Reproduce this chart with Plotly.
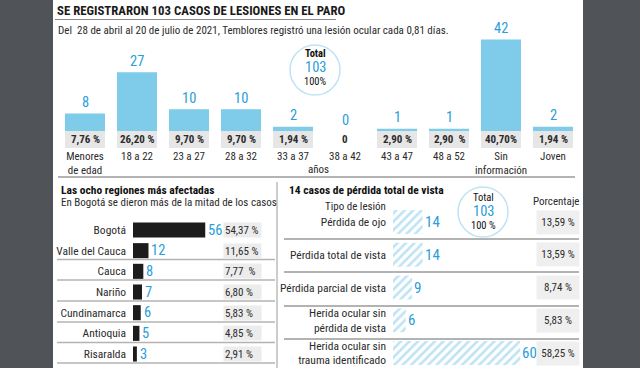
import plotly.graph_objects as go

# ---------------- data ----------------
age_groups = ["Menores de edad", "18 a 22", "23 a 27", "28 a 32", "33 a 37",
              "38 a 42", "43 a 47", "48 a 52", "Sin información", "Joven"]
age_tick_labels = ["Menores<br>de edad", "18 a 22", "23 a 27", "28 a 32", "33 a 37",
                   "38 a 42", "43 a 47", "48 a 52", "Sin<br>información", "Joven"]
age_cases = [8, 27, 10, 10, 2, 0, 1, 1, 42, 2]
age_pct = ["7,76 %", "26,20 %", "9,70 %", "9,70 %", "1,94 %", "0",
           "2,90 %", "2,90  %", "40,70%", "1,94 %"]

regions = ["Bogotá", "Valle del Cauca", "Cauca", "Nariño", "Cundinamarca",
           "Antioquia", "Risaralda"]
region_cases = [56, 12, 8, 7, 6, 5, 3]
region_pct = ["54,37 %", "11,65 %", "7,77  %", "6,80 %", "5,83 %", "4,85 %", "2,91 %"]

injury_types = ["Pérdida de ojo", "Pérdida total de vista", "Pérdida parcial de vista",
                "Herida ocular sin pérdida de vista", "Herida ocular sin trauma identificado"]
injury_tick_labels = ["Pérdida de ojo", "Pérdida total de vista", "Pérdida parcial de vista",
                      "Herida ocular sin<br>pérdida de vista",
                      "Herida ocular sin<br>trauma identificado"]
injury_cases = [14, 14, 9, 6, 60]
injury_pct = ["13,59 %", "13,59 %", "8,74 %", "5,83 %", "58,25 %"]

total_cases = 103

# ---------------- style ----------------
W, H = 640, 368
DARK = "#505458"
TOP_BLUE = "#7ecbea"
NUM_BLUE = "#2a9ed8"
BOX_GRAY = "#e6e6e6"
LINE_GRAY = "#b3b3b3"
TXT = "#2b2b2b"
NARROW = "Roboto Condensed, Liberation Sans Narrow, Roboto, sans-serif"
BODY = "Roboto Condensed, Roboto, sans-serif"


def px(x):
    return x / W


def py(y):
    return 1 - y / H


PX_PER_CASE = 2.18
BOX_H = 17 / PX_PER_CASE

fig = go.Figure()

fig.add_trace(go.Bar(x=age_groups, y=age_cases, width=0.77, xaxis="x", yaxis="y",
                     marker=dict(color=TOP_BLUE, line_width=0), hoverinfo="skip"))
fig.add_trace(go.Bar(x=age_groups, y=[BOX_H] * len(age_groups),
                     base=[-BOX_H] * len(age_groups), width=0.77, xaxis="x", yaxis="y",
                     marker=dict(color=[BOX_GRAY if c > 0 else "rgba(0,0,0,0)" for c in age_cases],
                                 line_width=0), hoverinfo="skip"))
fig.add_trace(go.Bar(x=region_cases, y=regions, orientation="h", width=0.73,
                     xaxis="x2", yaxis="y2", marker=dict(color="#1c1c1c", line_width=0),
                     hoverinfo="skip"))
fig.add_trace(go.Bar(x=injury_cases, y=injury_types, orientation="h", width=0.73,
                     xaxis="x3", yaxis="y3",
                     marker=dict(color="white", line_width=0,
                                 pattern=dict(shape="/", fgcolor="#7cc7e8", bgcolor="white",
                                              size=6, solidity=0.42)),
                     hoverinfo="skip"))

ann = []


def text(x, y, t, size=10, color=TXT, bold=False, xa="left", ya="middle", family=BODY, **kw):
    ann.append(dict(x=px(x), y=py(y), xref="paper", yref="paper", text=t, showarrow=False,
                    xanchor=xa, yanchor=ya,
                    font=dict(size=size, color=color, family=family,
                              weight="bold" if bold else "normal"), **kw))


text(55, 10, "SE REGISTRARON 103 CASOS DE LESIONES EN EL PARO", size=12.8, bold=True,
     color="#1a1a1a", family=NARROW)
text(56, 31, "Del  28 de abril al 20 de julio de 2021, Temblores registró una lesión ocular cada 0,81 días.",
     size=11)
text(318, 170, "años", size=11, xa="center")

for g, c, p in zip(age_groups, age_cases, age_pct):
    ann.append(dict(x=g, y=c, xref="x", yref="y", text=str(c), showarrow=False,
                    yanchor="middle", yshift=11,
                    font=dict(size=14.5, color=NUM_BLUE, family=NARROW)))
    ann.append(dict(x=g, y=-BOX_H / 2, xref="x", yref="y", text=p, showarrow=False,
                    yanchor="middle", font=dict(size=11, color=TXT, family=BODY, weight="bold")))

text(315, 53, "Total", size=10.5, bold=True, xa="center", color="#111", borderpad=0)
text(315, 67.5, str(total_cases), size=14.5, xa="center", color=NUM_BLUE, family=NARROW, borderpad=0)
text(315, 81.5, "100%", size=10.5, xa="center", color="#111", borderpad=0)

text(59, 190, "Las ocho regiones más afectadas", size=11.5, bold=True, color="#111")
text(59, 202, "En Bogotá se dieron más de la mitad de los casos", size=11)

for r, c, p in zip(regions, region_cases, region_pct):
    ann.append(dict(x=c, y=r, xref="x2", yref="y2", text=str(c), showarrow=False,
                    xanchor="left", xshift=1,
                    font=dict(size=14.5, color=NUM_BLUE, family=NARROW)))
    ann.append(dict(x=px(223), y=r, xref="paper", yref="y2", text=p, showarrow=False,
                    xanchor="left", align="left", width=35, height=12, borderpad=1,
                    bgcolor="#ececec", font=dict(size=11, color=TXT, family=BODY)))

text(287, 190, "14 casos de pérdida total de vista", size=11.5, bold=True, color="#111")
text(355, 206, "Tipo de lesión", size=11, xa="center")
text(556, 201, "Porcentaje", size=11, xa="center")

text(483, 197.5, "Total", size=10.5, xa="center", color="#111", borderpad=0)
text(483, 211.5, str(total_cases), size=14.5, xa="center", color=NUM_BLUE, family=NARROW, borderpad=0)
text(483, 225.5, "100 %", size=10.5, xa="center", color="#111", borderpad=0)

for t, c, p in zip(injury_types, injury_cases, injury_pct):
    ann.append(dict(x=c, y=t, xref="x3", yref="y3", text=str(c), showarrow=False,
                    xanchor="left", xshift=0,
                    font=dict(size=15, color=NUM_BLUE, family=NARROW)))
    ann.append(dict(x=px(558), y=t, xref="paper", yref="y3", text=p, showarrow=False,
                    xanchor="center", align="center", width=40, height=21, borderpad=1,
                    bgcolor="#efefef", font=dict(size=11, color=TXT, family=BODY)))

shapes = [dict(type="rect", xref="paper", yref="paper", x0=px(53), x1=px(583), y0=0, y1=1,
               fillcolor="white", line_width=0, layer="below")]


def hline(x0, x1, y, w=1.5, color=LINE_GRAY):
    shapes.append(dict(type="line", xref="paper", yref="paper", x0=px(x0), x1=px(x1),
                       y0=py(y), y1=py(y), line=dict(color=color, width=w)))


hline(55, 336, 19.5, 1, "#8a8a8a")
hline(58, 575, 177, 2)
shapes.append(dict(type="line", xref="paper", yref="paper", x0=px(277), x1=px(277),
                   y0=py(182), y1=0, line=dict(color="#9a9a9a", width=1)))
for y in [259.5, 280, 301, 322, 342.5, 363]:
    hline(57, 275, y, 1.5)
for y in [239, 272, 306, 339]:
    hline(284, 579, y, 2)
for cx, cy in [(315, 70), (483, 212)]:
    shapes.append(dict(type="circle", xref="paper", yref="paper",
                       x0=px(cx - 25), x1=px(cx + 25), y0=py(cy + 25), y1=py(cy - 25),
                       line=dict(color="#bfe3f4", width=1.5), fillcolor="rgba(0,0,0,0)"))

tickfont = dict(size=11, color=TXT, family=BODY)
fig.update_layout(
    width=W, height=H, margin=dict(l=0, r=0, t=0, b=0),
    paper_bgcolor=DARK, plot_bgcolor="rgba(0,0,0,0)",
    showlegend=False, barmode="overlay",
    xaxis=dict(domain=[px(53), px(583)], range=[-0.6154, 9.577], type="category",
               categoryorder="array", categoryarray=age_groups,
               tickvals=age_groups, ticktext=age_tick_labels,
               showgrid=False, zeroline=False, showline=False, ticks="",
               tickfont=tickfont, ticklabelstandoff=0, anchor="y", fixedrange=True),
    yaxis=dict(domain=[py(148), py(30)], range=[-BOX_H, (131 - 30) / PX_PER_CASE],
               visible=False, anchor="x", fixedrange=True),
    xaxis2=dict(domain=[px(133), px(275)], range=[0, 142 / 1.29], visible=False,
                anchor="y2", fixedrange=True),
    yaxis2=dict(domain=[0, py(210)], type="category", categoryorder="array",
                categoryarray=regions, range=[(368 - 230) / 20.67, (210 - 230) / 20.67],
                showgrid=False, zeroline=False, showline=False, ticks="",
                tickfont=dict(size=11.5, color=TXT, family=BODY), ticklabelstandoff=6,
                anchor="x2", fixedrange=True),
    xaxis3=dict(domain=[px(393), px(580)], range=[0, 187 / 2.12], visible=False,
                anchor="y3", fixedrange=True),
    yaxis3=dict(domain=[0, py(205)], type="category", categoryorder="array",
                categoryarray=injury_types, tickvals=injury_types, ticktext=injury_tick_labels,
                range=[(368 - 222) / 32.75, (205 - 222) / 32.75],
                showgrid=False, zeroline=False, showline=False, ticks="",
                tickfont=dict(size=11.5, color=TXT, family=BODY), ticklabelstandoff=6,
                anchor="x3", fixedrange=True),
    annotations=ann, shapes=shapes,
)

fig.write_html("out.html", config={"displayModeBar": False},
               post_script="document.body.style.margin='0';")
